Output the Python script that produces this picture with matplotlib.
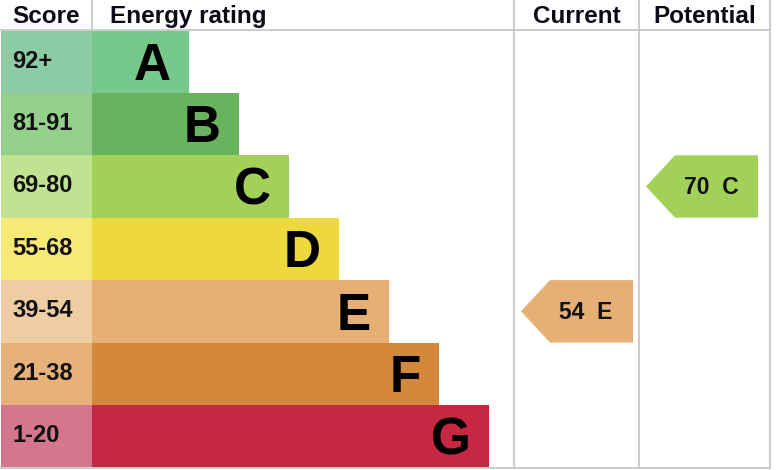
import matplotlib.pyplot as plt
from matplotlib.patches import Rectangle, Polygon

plt.rcParams['font.family'] = ['Liberation Sans', 'DejaVu Sans']

bands = ['A', 'B', 'C', 'D', 'E', 'F', 'G']
score_ranges = ['92+', '81-91', '69-80', '55-68', '39-54', '21-38', '1-20']
band_min = [92, 81, 69, 55, 39, 21, 1]
bar_lengths = [97, 147, 197, 247, 297, 347, 397]
bar_colors = ['#76c98a', '#68b45e', '#a2d159', '#eed93d', '#e6b075', '#d4883a', '#c62843']
score_colors = ['#8dcba7', '#94cf8c', '#c1e391', '#f7e976', '#efcda3', '#e6b279', '#d4768e']
current = 54
potential = 70

grey = '#c4c4c4'
top, row_h = 30.5, 62.4
bar_x0 = 92
col_cur, col_pot, col_end = 514, 639, 770

fig = plt.figure(figsize=(7.77, 4.70), dpi=100)
ax = fig.add_axes([0, 0, 1, 1])
ax.set_xlim(0, 777)
ax.set_ylim(470, 0)
ax.axis('off')

for i, band in enumerate(bands):
    y = top + i * row_h
    ax.add_patch(Rectangle((1, y), bar_x0 - 1, row_h, color=score_colors[i], lw=0))
    ax.add_patch(Rectangle((bar_x0, y), bar_lengths[i], row_h, color=bar_colors[i], lw=0))
    ax.text(12, y + 37, score_ranges[i], fontsize=17, fontweight='bold',
            va='baseline', ha='left', color='#111111')
    ax.text(bar_x0 + bar_lengths[i] - 18, y + 49.5, band, fontsize=37,
            fontweight='bold', va='baseline', ha='right', color='#000000')


def band_of(score):
    for i, m in enumerate(band_min):
        if score >= m:
            return i
    return len(bands) - 1


def arrow(col_left, score):
    i = band_of(score)
    y = top + i * row_h
    x0 = col_left + 7
    w, notch = 112, 29
    pts = [(x0, y + row_h / 2), (x0 + notch, y), (x0 + w, y),
           (x0 + w, y + row_h), (x0 + notch, y + row_h)]
    ax.add_patch(Polygon(pts, closed=True, color=bar_colors[i], lw=0))
    ax.text(x0 + w * 0.58, y + 38.5, f'{score}  {bands[i]}', fontsize=16.5,
            fontweight='bold', va='baseline', ha='center', color='#111111')


arrow(col_cur, current)
arrow(col_pot, potential)

# grid lines
ax.plot([0, col_end], [30, 30], color=grey, lw=1.2)
ax.plot([0, col_end], [468, 468], color=grey, lw=1.2)
ax.plot([92, 92], [0, 30], color=grey, lw=1.2)
for x in (col_cur, col_pot, col_end):
    ax.plot([x, x], [0, 468], color=grey, lw=1.2)

hdr_y = 23
hdr = dict(fontsize=17.5, fontweight='bold', va='baseline', color='#0a0a14')
ax.text(46, hdr_y, 'Score', ha='center', **hdr)
ax.text(110, hdr_y, 'Energy rating', ha='left', **hdr)
ax.text((col_cur + col_pot) / 2, hdr_y, 'Current', ha='center', **hdr)
ax.text((col_pot + col_end) / 2, hdr_y, 'Potential', ha='center', **hdr)

fig.savefig('out.png', dpi=100)
